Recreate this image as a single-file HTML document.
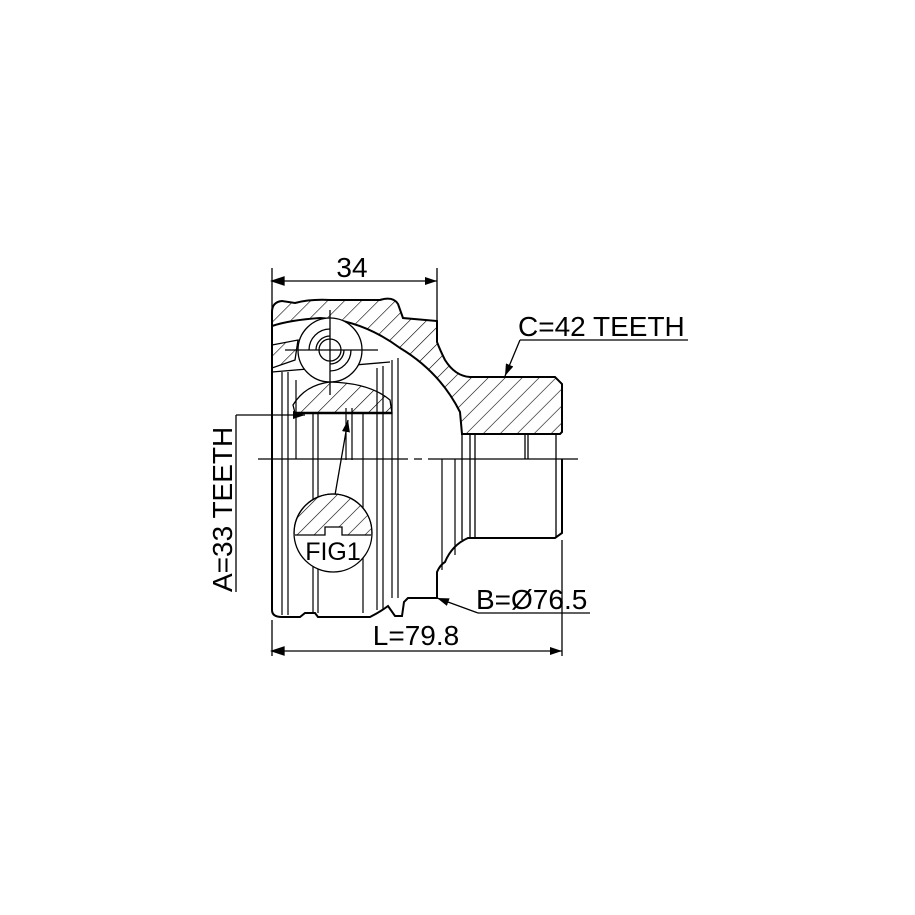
<!DOCTYPE html>
<html><head><style>html,body{margin:0;padding:0;background:#fff}svg{display:block}</style></head>
<body>
<svg width="915" height="915" viewBox="0 0 915 915" xmlns="http://www.w3.org/2000/svg" font-family="Liberation Sans, sans-serif">
<defs>
<pattern id="h" patternUnits="userSpaceOnUse" width="12" height="12" patternTransform="rotate(45)">
<line x1="0" y1="0" x2="0" y2="12" stroke="#000" stroke-width="1.2"/>
</pattern>
<marker id="a" markerWidth="12" markerHeight="8" refX="12" refY="4" orient="auto" markerUnits="userSpaceOnUse">
<path d="M0,0 L12,4 L0,8 Z" fill="#000"/></marker>
</defs>
<g fill="none" stroke="#000" stroke-width="1.3">
<path d="M272,312 Q272,302 282,301 L295,303 Q310,299 330,300 L380,300 Q393,296 398,304 L403,318 L437,321 L437,342 Q440,350 445,360 Q455,376 470,377 L555,377 L562,384 L562,432 L560,434 L530,434 L462,434 L460,412 Q440,372 400,348 Q362,320 320,318 Q290,320 272,326 Z" fill="url(#h)" stroke-width="2"/>
<path d="M293,405 Q305,385 330,382 Q370,383 390,400 L392,413 L295,413 Z" fill="url(#h)"/>
<path d="M272,345 L298,340 L295,360 L272,368 Z" fill="url(#h)"/>
<line x1="272" y1="372" x2="390" y2="362"/>
<circle cx="330" cy="350" r="32" fill="#fff"/>
<path d="M316,350 A14,14 0 0 1 330,336 M309,350 A21,21 0 0 1 330,329 M330,364 A14,14 0 0 0 344,350 M330,371 A21,21 0 0 0 351,350"/>
<circle cx="330" cy="350" r="11" fill="#fff"/>
<line x1="330" y1="310" x2="330" y2="395"/>
<line x1="285" y1="350" x2="378" y2="350"/>
<path d="M272,312 L272,610 Q272,617 282,617 L300,617 L305,613 L315,613 L318,617 L370,617 Q380,612 388,606 L395,616 L402,616 L404,602 L408,598 L437,598 L437,572 Q440,565 445,562 Q452,545 468,538 L470,538 L555,538 L562,533 L562,459" stroke-width="2"/>
<line x1="470" y1="538" x2="470" y2="434"/>
<line x1="475" y1="538" x2="475" y2="434"/>
<line x1="525" y1="434" x2="525" y2="459"/>
<line x1="528" y1="434" x2="528" y2="459"/>
<line x1="556" y1="434" x2="556" y2="538"/>
<line x1="462" y1="434" x2="462" y2="540"/>
<g stroke-width="1.2">
<line x1="282" y1="372" x2="282" y2="615"/>
<line x1="288" y1="372" x2="288" y2="615"/>
<line x1="296" y1="380" x2="296" y2="459"/>
<line x1="313" y1="413" x2="313" y2="613"/>
<line x1="318" y1="413" x2="318" y2="613"/>
<line x1="363" y1="413" x2="363" y2="613"/>
<line x1="377" y1="368" x2="377" y2="610"/>
<line x1="383" y1="366" x2="383" y2="610"/>
<line x1="392" y1="360" x2="392" y2="598"/>
<line x1="398" y1="358" x2="398" y2="598"/>
<line x1="442" y1="459" x2="442" y2="570"/>
<line x1="455" y1="459" x2="455" y2="555"/>
<line x1="295" y1="413" x2="392" y2="413" stroke-width="2.5"/>
<line x1="346" y1="408" x2="346" y2="460"/>
<line x1="352" y1="408" x2="352" y2="460"/>
</g>
<line x1="258" y1="459" x2="580" y2="459" stroke-dasharray="150,6,8,6"/>
<line x1="272" y1="268" x2="272" y2="310"/>
<line x1="437" y1="268" x2="437" y2="320"/>
<line x1="272" y1="281" x2="437" y2="281" marker-end="url(#a)"/>
<path d="M272,281 L284,277 L284,285 Z" fill="#000"/>
<line x1="272" y1="620" x2="272" y2="656"/>
<line x1="562" y1="540" x2="562" y2="656"/>
<line x1="272" y1="651" x2="562" y2="651" marker-end="url(#a)"/>
<path d="M272,651 L284,647 L284,655 Z" fill="#000"/>
<line x1="590" y1="613" x2="478" y2="613"/>
<line x1="478" y1="613" x2="437" y2="598" marker-end="url(#a)"/>
<line x1="688" y1="340" x2="520" y2="340"/>
<line x1="520" y1="340" x2="505" y2="376" marker-end="url(#a)"/>
<line x1="236" y1="592" x2="236" y2="415"/>
<line x1="236" y1="415" x2="305" y2="415" marker-end="url(#a)"/>
<line x1="335" y1="495" x2="348" y2="420" marker-end="url(#a)"/>
<circle cx="333" cy="533" r="39" fill="#fff"/>
<clipPath id="c"><path d="M294,535 L294,490 L372,490 L372,535 L342,535 L342,527 L325,527 L325,535 Z"/></clipPath>
<circle cx="333" cy="533" r="39" fill="url(#h)" clip-path="url(#c)"/>
<path d="M295,535 L325,535 L325,527 L342,527 L342,535 L371,535"/>
</g>
<g fill="#000" font-size="28">
<text x="352" y="277" text-anchor="middle">34</text>
<text x="416" y="645" text-anchor="middle">L=79.8</text>
<text x="476" y="609">B=Ø76.5</text>
<text x="518" y="336">C=42 TEETH</text>
<text x="333" y="560" text-anchor="middle" font-size="25">FIG1</text>
<text transform="translate(232,592) rotate(-90)">A=33 TEETH</text>
</g>
</svg>
</body></html>
